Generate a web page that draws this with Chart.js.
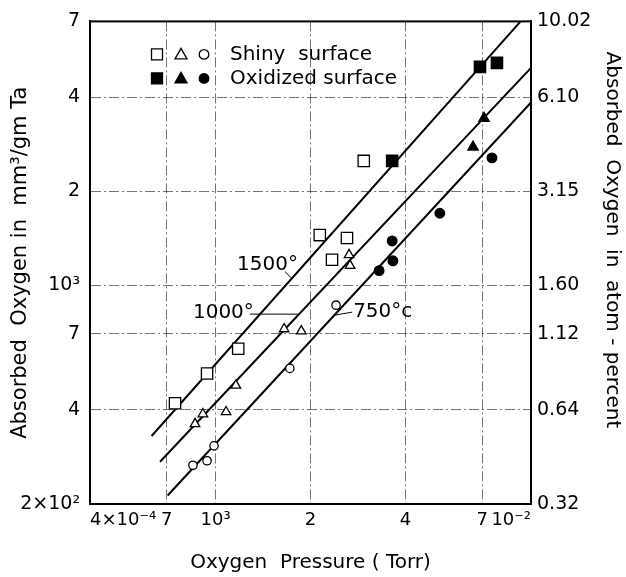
<!DOCTYPE html>
<html>
<head>
<meta charset="utf-8">
<script src="https://cdn.jsdelivr.net/npm/chart.js@4/dist/chart.umd.min.js"></script>
<style>
  html, body { margin: 0; padding: 0; background: #fff; }
  #wrap { width: 626px; height: 577px; }
</style>
</head>
<body>
<div id="wrap"><canvas id="chart" width="626" height="577"></canvas></div>
<script>
// axis ticks
const xTicks = [4e-4, 7e-4, 1e-3, 2e-3, 4e-3, 7e-3, 1e-2];
const xTickLabels = ['4×10⁻⁴', '7', '10³', '2', '4', '7', '10⁻²'];
const yTicks = [200, 400, 700, 1000, 2000, 4000, 7000];
const yTickLabels = ['2×10²', '4', '7', '10³', '2', '4', '7'];
const atomLabels = ['0.32', '0.64', '1.12', '1.60', '3.15', '6.10', '10.02'];

// 1500° - squares
const shinySqX = [7.44e-4, 9.40e-4, 1.18e-3, 2.14e-3, 2.34e-3, 2.61e-3, 2.95e-3];
const shinySqY = [420, 523, 628, 1450, 1209, 1419, 2505];
const oxSqX = [3.63e-3, 6.89e-3, 7.80e-3];
const oxSqY = [2505, 5007, 5155];

// 1000° - triangles
const shinyTriX = [8.61e-4, 9.12e-4, 1.08e-3, 1.16e-3, 1.65e-3, 1.87e-3, 2.65e-3, 2.67e-3];
const shinyTriY = [361, 388, 394, 479, 726, 715, 1254, 1158];
const oxTriX = [6.55e-3, 7.10e-3];
const oxTriY = [2774, 3428];

// 750° - circles
const shinyCirX = [8.48e-4, 9.40e-4, 9.89e-4, 1.72e-3, 2.41e-3];
const shinyCirY = [266, 275, 307, 543, 865];
const oxCirX = [3.30e-3, 3.63e-3, 3.65e-3, 5.14e-3, 7.52e-3];
const oxCirY = [1116, 1389, 1200, 1703, 2561];

// fitted lines (end points)
const fit1500X = [6.27e-4, 9.27e-3];
const fit1500Y = [330, 7000];
const fit1000X = [6.67e-4, 1.0e-2];
const fit1000Y = [273, 4971];
const fit750X = [7.05e-4, 1.0e-2];
const fit750Y = [213, 3853];

// line labels: text, anchor (x, y), leader from/to
const lineLabels = ['1500°', '1000°', '750°c'];
const lineLabelX = [1.17e-3, 8.48e-4, 2.73e-3];
const lineLabelY = [1124, 787, 792];
const leaderX1 = [1.66e-3, 1.286e-3, 2.39e-3];
const leaderY1 = [1108, 810, 804];
const leaderX2 = [1.747e-3, 1.826e-3, 2.71e-3];
const leaderY2 = [1053, 810, 822];

const legendLabels = ['Shiny  surface', 'Oxidized surface'];

const FONT = "'DejaVu Sans', sans-serif";

const pts = (xs, ys) => xs.map((x, i) => ({ x: x, y: ys[i] }));

function markerSet(label, xs, ys, style, radius, filled) {
    return {
        label: label,
        data: pts(xs, ys),
        pointStyle: style,
        pointRadius: radius,
        pointBackgroundColor: filled ? '#000' : '#fff',
        pointBorderColor: '#000',
        pointBorderWidth: 1.3,
        showLine: false,
        order: 1
    };
}

function fitLine(label, xs, ys) {
    return {
        label: label,
        data: pts(xs, ys),
        showLine: true,
        borderColor: '#000',
        borderWidth: 2,
        pointRadius: 0,
        fill: false,
        order: 2
    };
}

function setTicks(vals) {
    return function(scale) {
        scale.ticks = vals.map(v => ({ value: v }));
    };
}

// draws the frame, legend, line labels and right axis title
const overlay = {
    id: 'overlay',
    afterDraw(chart) {
        const { ctx, chartArea: a, scales } = chart;
        const sx = scales.x, sy = scales.y;
        ctx.save();

        ctx.strokeStyle = '#000';
        ctx.lineWidth = 2;
        ctx.strokeRect(a.left, a.top, a.right - a.left, a.bottom - a.top);

        // legend
        const lx = a.left + 67, rows = [a.top + 33, a.top + 57];
        ctx.lineWidth = 1.3;
        rows.forEach((ry, r) => {
            const fill = r === 1 ? '#000' : '#fff';
            ctx.fillStyle = fill;
            ctx.beginPath();
            ctx.rect(lx - 5.5, ry - 5.5, 11, 11);
            ctx.fill(); ctx.stroke();
            ctx.beginPath();
            ctx.moveTo(lx + 24, ry - 6);
            ctx.lineTo(lx + 30, ry + 4.5);
            ctx.lineTo(lx + 18, ry + 4.5);
            ctx.closePath();
            ctx.fill(); ctx.stroke();
            ctx.beginPath();
            ctx.arc(lx + 47, ry, 4.8, 0, Math.PI * 2);
            ctx.fill(); ctx.stroke();
            ctx.fillStyle = '#000';
            ctx.font = '20px ' + FONT;
            ctx.textAlign = 'left';
            ctx.textBaseline = 'middle';
            ctx.fillText(legendLabels[r], lx + 73, ry);
        });

        // line labels with leaders
        ctx.lineWidth = 1;
        ctx.font = '20px ' + FONT;
        ctx.textBaseline = 'alphabetic';
        lineLabels.forEach((t, i) => {
            ctx.fillText(t, sx.getPixelForValue(lineLabelX[i]), sy.getPixelForValue(lineLabelY[i]));
            ctx.beginPath();
            ctx.moveTo(sx.getPixelForValue(leaderX1[i]), sy.getPixelForValue(leaderY1[i]));
            ctx.lineTo(sx.getPixelForValue(leaderX2[i]), sy.getPixelForValue(leaderY2[i]));
            ctx.stroke();
        });

        // right axis title
        ctx.translate(612, 240);
        ctx.rotate(Math.PI / 2);
        ctx.textAlign = 'center';
        ctx.textBaseline = 'middle';
        ctx.fillText('Absorbed  Oxygen  in  atom - percent', 0, 0);
        ctx.restore();
    }
};

const gridStyle = { color: 'rgba(0,0,0,0.55)', lineWidth: 1, drawTicks: false };
const dashed = { display: true, color: '#000', width: 2, dash: [10, 3, 2, 3] };
const tickFont = { family: FONT, size: 19 };

new Chart(document.getElementById('chart'), {
    type: 'scatter',
    data: {
        datasets: [
            markerSet('Shiny 1500', shinySqX, shinySqY, 'rect', 8, false),
            markerSet('Oxidized 1500', oxSqX, oxSqY, 'rect', 8, true),
            markerSet('Shiny 1000', shinyTriX, shinyTriY, 'triangle', 5.5, false),
            markerSet('Oxidized 1000', oxTriX, oxTriY, 'triangle', 6, true),
            markerSet('Shiny 750', shinyCirX, shinyCirY, 'circle', 4.2, false),
            markerSet('Oxidized 750', oxCirX, oxCirY, 'circle', 4.8, true),
            fitLine('1500°', fit1500X, fit1500Y),
            fitLine('1000°', fit1000X, fit1000Y),
            fitLine('750°', fit750X, fit750Y)
        ]
    },
    options: {
        responsive: false,
        animation: false,
        layout: { padding: { top: 16, left: 0, right: 0, bottom: 0 } },
        plugins: {
            legend: { display: false },
            tooltip: { enabled: false }
        },
        scales: {
            x: {
                type: 'logarithmic',
                min: 4e-4,
                max: 1e-2,
                afterBuildTicks: setTicks(xTicks),
                afterFit: s => { s.height = 73; },
                grid: gridStyle,
                border: dashed,
                ticks: {
                    autoSkip: false,
                    maxRotation: 0,
                    align: 'inner',
                    padding: 6,
                    color: '#000',
                    font: { family: FONT, size: 18 },
                    callback: (v, i) => xTickLabels[i]
                },
                title: {
                    display: true,
                    text: 'Oxygen  Pressure ( Torr)',
                    color: '#000',
                    font: { family: FONT, size: 20 },
                    padding: { top: 0, bottom: 2 }
                }
            },
            y: {
                type: 'logarithmic',
                position: 'left',
                min: 200,
                max: 7000,
                afterBuildTicks: setTicks(yTicks),
                afterFit: s => { s.width = 90; },
                grid: gridStyle,
                border: dashed,
                ticks: {
                    autoSkip: false,
                    padding: 10,
                    color: '#000',
                    font: tickFont,
                    callback: (v, i) => yTickLabels[i]
                },
                title: {
                    display: true,
                    text: 'Absorbed  Oxygen in  mm³/gm Ta',
                    color: '#000',
                    font: { family: FONT, size: 21 },
                    padding: { top: 8, bottom: 0 }
                }
            },
            y2: {
                type: 'logarithmic',
                position: 'right',
                min: 200,
                max: 7000,
                afterBuildTicks: setTicks(yTicks),
                afterFit: s => { s.width = 95; },
                grid: { display: false, drawTicks: false },
                border: { display: true, color: '#000', width: 2 },
                ticks: {
                    autoSkip: false,
                    padding: 6,
                    color: '#000',
                    font: tickFont,
                    callback: (v, i) => atomLabels[i]
                }
            }
        }
    },
    plugins: [overlay]
});
</script>
</body>
</html>
